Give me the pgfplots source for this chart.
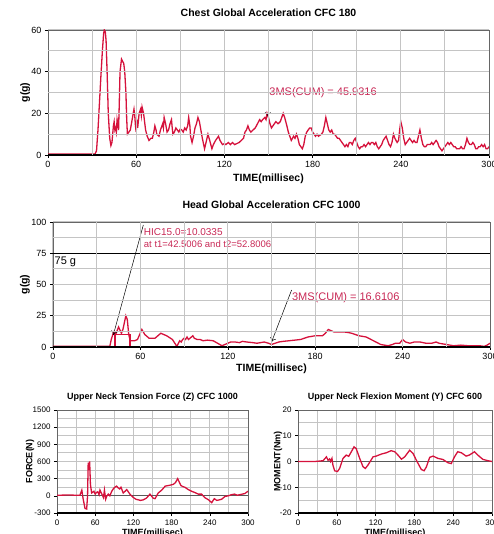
\documentclass[border=0pt]{standalone}
\usepackage{fontspec}
\setmainfont{Liberation Sans}
\usepackage{pgfplots}
\pgfplotsset{compat=1.18}
\usetikzlibrary{arrows.meta}
\definecolor{crv}{RGB}{213,18,60}
\definecolor{ann}{RGB}{200,40,85}
\definecolor{grd}{RGB}{196,196,196}
\newcommand{\fs}[1]{\fontsize{#1bp}{#1bp}\selectfont}

\pgfplotstableread{
t g
0 0.5
32 0.5
33 2
34 12
35 25
36 38
37 50
37.8 58
38.3 60
39 59
39.5 55
40.2 40
41 20
42 8
42.8 4.5
43.5 6
44 10
44.5 14
45 16
45.5 12
46 13
46.5 11
47 17
47.5 15
48 12
48.5 25
49 40
50 46
50.7 45
51.5 44
52.2 40
53 30
53.5 18
54 10
55 11
56 12
57 16
58.5 22
59 19
59.5 14
60 11
60.5 17
61 13
62 20
63 22
63.5 19
64 23
65 20
66.4 12
67.5 9
68.7 7
70 8
71 8
72 11
72.7 14
73.5 12
74 10
75.5 9
76.5 12
78 15
78.5 13
79 18
80 15
81 11
82 12
83 15
84 17
84.5 13
85 10
86 11
87 13
88 12
89 11
90 12.5
91 12
92 11
93 13
94 12
95 14
95.7 18
96.5 14
97 9
98 6
99 9
100 13
101 15
102 18
103 16
104 12
105 8
106.5 3
107.5 6
108.8 10
110 7
111.5 3
112.5 5
114 7
115 8
116 9
117 7
118.7 5
120 5.5
121 5
122.7 6
124 5
125.5 6
127 5
128.5 5.5
130 6
131.5 7
133 8
134 11
135 12
136 14
137 12
138 11
139.5 12
141 13
142.5 15
144 17
145 16
146 17
147.5 18
148.3 17
149 20
150 18
151 15
152 13
153 14
154 15
155 16
156.5 15
158 16
159 18
160 20
161 18
162.5 14
163.5 11
164.5 9
165.5 7
166.3 8
167 9
168 8
169 10
170 8
171 5
172 4
173 3
174 5
175 9
176 11
177 12
178 13
179 13
180 11
181 10
182 9
183 10
184 9
185 9.5
186 10
187 11
188 14
189 18
190 15
191 12
192 11
193 12
194 10
195 10
196 9
197 8
198 8
199 7
200 6
201 5
202 4
203 5
204 4
205 6
206 6
207 5
208 7
209 8
210 6
211 4
212 3
213 4
214 4
215 5
216 4
217 5
218 6
219 5
220 6
221 6
222 5
223 6
224 4
225 3
226 4
227 5
228 7
229 8
230 9
231 7
232 5
233 4
234 6
235 10
236 8
237.5 6
238.5 7
239.2 12
240 16
241 13
242 8
243 5
244 6
245 7
246 8
247 7
248 6
249 7
250 6
251 6
252 9
253 12
254 8
255 5
256 4
257 4
258 5
259 5
260 5
261 6
262 5
263 6
264 7
265 6
266 4
267 3
268 2
269 3
270 4
271 5
272 6
273 5
274 6
275 5
276 4
277 4
278 3
279 3
280 3
281 4
282 3
283 3
284 5
285 8
286 6
287 5
288 5
289 6
290 5
291 3
292 3
293 4
294 4
295 5
296 4
297 5
298 3
299 3
300 4
}\chest

\pgfplotstableread{
t g
0 0.5
39 0.5
40 6
41.6 12
43 10
45 16
47 11
48 14
50 25
51 22
52 10
53 5
56 5
58 6
61 14
63 10
66 7
70 7
74 11
78 9
82 6
85 0.5
87 5
88 4
89 6
90 7
91 6
92 8
93 6
94 7
95 8
96 9
97 7
99 6
101 6
103 5
106 5.5
110 5
113 3
116 1
118 2
120 3
122 4
125 4
128 3.5
130 4.5
133 4
137 3.5
140 3
145 4
148 3
150 2
155 4
158 4.5
162 5
166 5.5
170 6
175 8
180 9
183 9
185 9
187 11
189 14
191 13
193 12
197 12
200 12
203 11.5
205 11
210 9
215 8
220 5
225 2
230 1
233 2
235 3
238 3
240 6
242 4
245 3
248 4
252 4
256 3
260 3
263 4
265 3
270 2
275 1
280 1.5
285 1
290 1
293 1
296 0.5
298 1.5
300 3
}\head

\pgfplotstableread{
t f
0 10
20 15
30 10
36 10
39 100
41 -50
44 -220
46.6 -230
48 0
49 580
50 450
51.3 600
52.5 200
54.4 50
58 80
60 30
62 60
64 70
66 20
67.5 100
70 40
73 -30
74.5 100
76.5 -60
78 -10
80.5 30
83 0
86 80
89 130
91 150
93.5 170
96 140
98.5 120
100.5 150
104 50
107 80
109.5 110
114.5 30
120 -30
124 -60
127.7 -70
131 -80
135.5 -70
140.5 -40
146 30
151 -40
154 -50
159 50
164.5 100
170 170
175 180
179 190
182.6 200
186 230
189.5 300
194.6 180
198 160
201 150
206 110
211.4 80
216 60
222 30
227 30
232 -30
238 -70
243 -120
247 -50
251 -80
255 -70
258.5 -60
264 -10
269 0
274 20
279 30
283 10
287 20
291 30
295 40
300 80
}\neckf

\pgfplotstableread{
t m
0 0
26 0
38.7 0.3
44 1.8
46.5 0.5
49 1
50.5 0
52.5 1.2
54 -1.4
56.7 -3.6
61 -3.9
64.4 -2.7
69.6 1.2
74.7 2.5
78.4 2
82.5 3.8
86.6 5.7
90 5
95.4 1.2
100.5 -2
104.1 -2.7
108.2 -1.4
116 1.8
121 2.1
129 2.9
136.6 3.4
144 4.2
149.5 3.8
154.6 2.5
160 0.9
165 1.8
172.7 4.4
178 3.1
183 0.5
190.7 -3.1
195 -3.6
198.5 -2.1
203.6 1.6
208.8 2.1
216.5 1.2
224 0.8
232 -0.5
237 -0.8
242 1.8
247 3.8
252.6 3.4
260 2.1
265 2.5
273 3.8
278 2.5
286 0.8
294 0.3
300 0
}\neckm

\pgfplotsset{
  base/.style={
    scale only axis, anchor=south west,
    xmin=0, xmax=300,
    xtick={0,60,...,300},
    minor x tick num=1, minor y tick num=1,
    xmajorgrids=true, ymajorgrids=true, xminorgrids=true, yminorgrids=true,
    major grid style={draw=grd, line width=1bp},
    minor grid style={draw=grd, line width=1bp},
    axis line style={draw=gray!80!black, line width=0.8bp},
    tick align=outside, tick pos=left,
    major tick length=3bp, minor tick length=0bp,
    major tick style={black, line width=0.6bp},
    /pgf/number format/assume math mode=true,
    /pgf/number format/1000 sep={},
    every axis title/.style={at={(0.5,1)}, anchor=base, font=\bfseries\fs{10.5}},
    every axis x label/.style={at={(0.5,0)}, anchor=base, font=\bfseries\fs{10.5}},
    every axis y label/.style={rotate=90, anchor=center, font=\bfseries\fs{10.5}},
    ticklabel style={font=\fs{9}},
    after end axis/.code={\draw[black, line width=1.4bp] (rel axis cs:0,0) -- (rel axis cs:1,0);},
  },
  smallfonts/.style={
    every axis title/.style={at={(0.5,1)}, anchor=base, font=\bfseries\fs{9}},
    every axis x label/.style={at={(0.5,0)}, anchor=base, font=\bfseries\fs{9}},
    every axis y label/.style={rotate=90, anchor=center, font=\bfseries\fs{9}},
    ticklabel style={font=\fs{8}},
  },
}

\begin{document}
\begin{tikzpicture}
\path[use as bounding box] (0,0) rectangle (494bp,534bp);

% Neck force (drawn first)
\begin{axis}[base, smallfonts, at={(57bp,21bp)}, width=191bp, height=103bp,
  ymin=-300, ymax=1500, ytick={-300,0,...,1500},
  title={Upper Neck Tension Force (Z) CFC 1000},
  title style={yshift=11bp},
  xlabel={TIME(millisec)}, xlabel style={yshift=-22bp},
  ylabel={FORCE(N)}, ylabel style={at={(axis description cs:-0.141,0.5)}},
]
\addplot[gray!70!black, line width=0.9bp] coordinates {(0,0) (300,0)};
\addplot[crv, line width=1.3bp] table[x=t, y=f] {\neckf};
\end{axis}

% Neck moment
\begin{axis}[base, smallfonts, at={(298bp,21bp)}, width=194bp, height=103bp,
  ymin=-20, ymax=20, ytick={-20,-10,...,20},
  title={Upper Neck Flexion Moment (Y) CFC 600},
  title style={yshift=11bp},
  xlabel={TIME(millisec)}, xlabel style={yshift=-22bp},
  ylabel={MOMENT(Nm)}, ylabel style={at={(axis description cs:-0.103,0.5)}},
]
\addplot[gray!70!black, line width=0.9bp] coordinates {(0,0) (300,0)};
\addplot[crv, line width=1.3bp] table[x=t, y=m] {\neckm};
\end{axis}

% Chest
\begin{axis}[base, at={(48bp,379bp)}, width=441bp, height=125bp,
  ymin=0, ymax=60, ytick={0,20,...,60},
  title={Chest Global Acceleration CFC 180},
  title style={yshift=13bp},
  xlabel={TIME(millisec)}, xlabel style={yshift=-27bp},
  ylabel={g(g)}, ylabel style={at={(axis description cs:-0.052,0.5)}},
]
\addplot[crv, line width=1.3bp] table[x=t, y=g] {\chest};
\draw[black, line width=0.5bp, -{To[length=4bp,width=6bp]}] (axis cs:149.6,33.5) -- (axis cs:149.6,18.6);
\node[ann, anchor=west, inner sep=0pt, font=\fs{11}] at (axis cs:150.5,29.8) {3MS(CUM) = 45.9316};
\end{axis}

% Head
\begin{axis}[base, at={(53bp,187bp)}, width=437bp, height=125bp,
  ymin=0, ymax=100, ytick={0,25,...,100},
  title={Head Global Acceleration CFC 1000},
  title style={yshift=13bp},
  xlabel={TIME(millisec)}, xlabel style={yshift=-25bp},
  ylabel={g(g)}, ylabel style={at={(axis description cs:-0.064,0.5)}},
]
\addplot[black, line width=1.3bp] coordinates {(0,75) (300,75)};
\node[black, anchor=west, inner sep=0pt, font=\fs{11}] at (axis cs:1,68) {75 g};
\addplot[crv, line width=1.2bp] coordinates {(42.5,0) (42.5,10) (52.8,10) (52.8,0)};
\addplot[crv, line width=1.3bp] table[x=t, y=g] {\head};
\draw[black, line width=0.5bp, -{To[length=4bp,width=6bp]}] (axis cs:62,97.6) -- (axis cs:41.4,9.6);
\node[ann, anchor=west, inner sep=0pt, font=\fs{10}] at (axis cs:62.3,92.3) {HIC15.0=10.0335};
\node[ann, anchor=west, inner sep=0pt, font=\fs{9.5}] at (axis cs:62.3,82.4) {at t1=42.5006 and t2=52.8006};
\draw[black, line width=0.5bp, -{To[length=4bp,width=6bp]}] (axis cs:163.8,45.6) -- (axis cs:150.1,4.2);
\node[ann, anchor=west, inner sep=0pt, font=\fs{11}] at (axis cs:164,39.8) {3MS(CUM) = 16.6106};
\end{axis}

% grid lines of the two upper panels, drawn last
\foreach \t in {30,60,...,270} {
  \draw[black!23, line width=1bp] ({48bp+\t*1.47bp},379bp) -- ({48bp+\t*1.47bp},504bp);
  \draw[black!23, line width=1bp] ({53bp+\t*1.4567bp},187bp) -- ({53bp+\t*1.4567bp},312bp);
}
\foreach \g in {10,20,...,50} {
  \draw[black!23, line width=1bp] (48bp,{379bp+\g*2.0833bp}) -- (489bp,{379bp+\g*2.0833bp});
}
\foreach \g in {12.5,25,37.5,50,62.5,87.5} {
  \draw[black!23, line width=1bp] (53bp,{187bp+\g*1.25bp}) -- (490bp,{187bp+\g*1.25bp});
}
\end{tikzpicture}
\end{document}
